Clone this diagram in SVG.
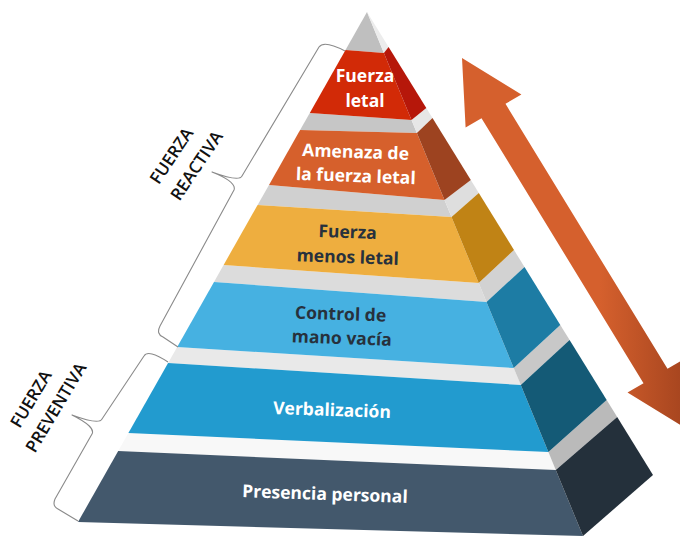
<svg xmlns="http://www.w3.org/2000/svg" width="680" height="536" viewBox="0 0 680 536">
<defs>
<linearGradient id="arrowGrad" gradientUnits="userSpaceOnUse" x1="600" y1="0" x2="690" y2="0">
<stop offset="0" stop-color="#d5602d"/>
<stop offset="1" stop-color="#a3431e"/>
</linearGradient>
<style>
.lbl{font-family:"Open Sans","Noto Sans",sans-serif;font-weight:700;font-size:17.5px;text-anchor:middle}
.w{fill:#ffffff}
.d{fill:#27313d}
.side{font-family:"Open Sans","Noto Sans",sans-serif;font-weight:600;font-size:17px;text-anchor:middle;fill:#111111}
.brace{fill:none;stroke:#8a8a8a;stroke-width:1.1;stroke-linejoin:round}
</style>
</defs>
<rect width="680" height="536" fill="#ffffff"/>

<g id="arrow">
<polygon points="462,58 521.4,94.4 505.5,103.8 667.5,368.8 683.5,359.4 687,429 627.5,392.6 643.5,383.2 481.5,118.2 465.6,127.6" fill="url(#arrowGrad)"/>
</g>

<g id="cap">
<polygon points="367,12 383.9,53 345.5,50" fill="#bfbfbf"/>
<polygon points="367,12 388.6,47 383.9,53" fill="#ececec"/>
</g>

<g id="strips">
<polygon points="309.8,113 411.5,120 416.9,133 300.1,130" fill="#c6c6c6"/>
<polygon points="411.5,120 426.3,108 432.5,118 416.9,133" fill="#e6e6e6"/>
<polygon points="269,185 444.5,200 451.5,217 257.6,205" fill="#d0d0d0"/>
<polygon points="444.5,200 470.8,180 478.8,193 451.5,217" fill="#dedede"/>
<polygon points="223.6,265 478.7,283 486.5,302 214,282" fill="#dcdcdc"/>
<polygon points="478.7,283 514,250 524.5,267 486.5,302" fill="#d2d2d2"/>
<polygon points="177.2,347 513.7,368 520.8,385 168.1,363" fill="#e9e9e9"/>
<polygon points="513.7,368 560.3,325 569.6,340 520.8,385" fill="#c8c8c8"/>
<polygon points="128.4,433 548.4,452 555.8,470 118.2,451" fill="#f8f8f8"/>
<polygon points="548.4,452 606.7,400 617.2,417 555.8,470" fill="#bababa"/>
</g>

<g id="tier-fuerza-letal">
<polygon points="345.5,50 383.9,53 411.5,120 309.8,113" fill="#d22a07"/>
<polygon points="383.9,53 388.6,47 426.3,108 411.5,120" fill="#b6170a"/>
<text class="lbl w" x="365" y="82">Fuerza</text>
<text class="lbl w" x="365" y="107">letal</text>
</g>

<g id="tier-amenaza">
<polygon points="300.1,130 416.9,133 444.5,200 269,185" fill="#d6602c"/>
<polygon points="416.9,133 432.5,118 470.8,180 444.5,200" fill="#9d4320"/>
<g transform="rotate(2 356 170)">
<text class="lbl w" x="355" y="158">Amenaza de</text>
<text class="lbl w" x="356" y="182">la fuerza letal</text>
</g>
</g>

<g id="tier-menos-letal">
<polygon points="257.6,205 451.5,217 478.7,283 223.6,265" fill="#eeae3f"/>
<polygon points="451.5,217 478.8,193 514,250 478.7,283" fill="#c08315"/>
<g transform="rotate(2 347 250)">
<text class="lbl d" x="347" y="238">Fuerza</text>
<text class="lbl d" x="348" y="263">menos letal</text>
</g>
</g>

<g id="tier-mano-vacia">
<polygon points="214,282 486.5,302 513.7,368 177.2,347" fill="#46b1e1"/>
<polygon points="486.5,302 524.5,267 560.3,325 513.7,368" fill="#1d7ca4"/>
<g transform="rotate(2 340 332)">
<text class="lbl d" x="340" y="320">Control de</text>
<text class="lbl d" x="342" y="344">mano vacía</text>
</g>
</g>

<g id="tier-verbalizacion">
<polygon points="168.1,363 520.8,385 548.4,452 128.4,433" fill="#229bcf"/>
<polygon points="520.8,385 569.6,340 606.7,400 548.4,452" fill="#145a76"/>
<text class="lbl w" x="332" y="416" transform="rotate(2 332 410)">Verbalización</text>
</g>

<g id="tier-presencia">
<polygon points="118.2,451 555.8,470 583,536 78,522" fill="#43586c"/>
<polygon points="555.8,470 617.2,417 653,475 583,536" fill="#24303b"/>
<text class="lbl w" x="325" y="500" transform="rotate(2 325 494)">Presencia personal</text>
</g>

<g id="connectors">
<path class="brace" d="M345,51 Q324,40 319,47 L242,176 Q239,182 212,172 Q237,182 234,190 L160,326 Q156,334 163,337 L178,347"/>
<path class="brace" d="M168,362 Q148,349 144,356 L102,419 Q99,425 72,415 Q96,427 92,434 L55,499 Q52,506 58,509 L78,521"/>
</g>

<g id="label-reactiva">
<text class="side" transform="translate(176.5,159) rotate(-56)">FUERZA</text>
<text class="side" transform="translate(201.5,169) rotate(-56)">REACTIVA</text>
</g>
<g id="label-preventiva">
<text class="side" transform="translate(36,402) rotate(-59)">FUERZA</text>
<text class="side" transform="translate(61,410.5) rotate(-59)">PREVENTIVA</text>
</g>
</svg>
